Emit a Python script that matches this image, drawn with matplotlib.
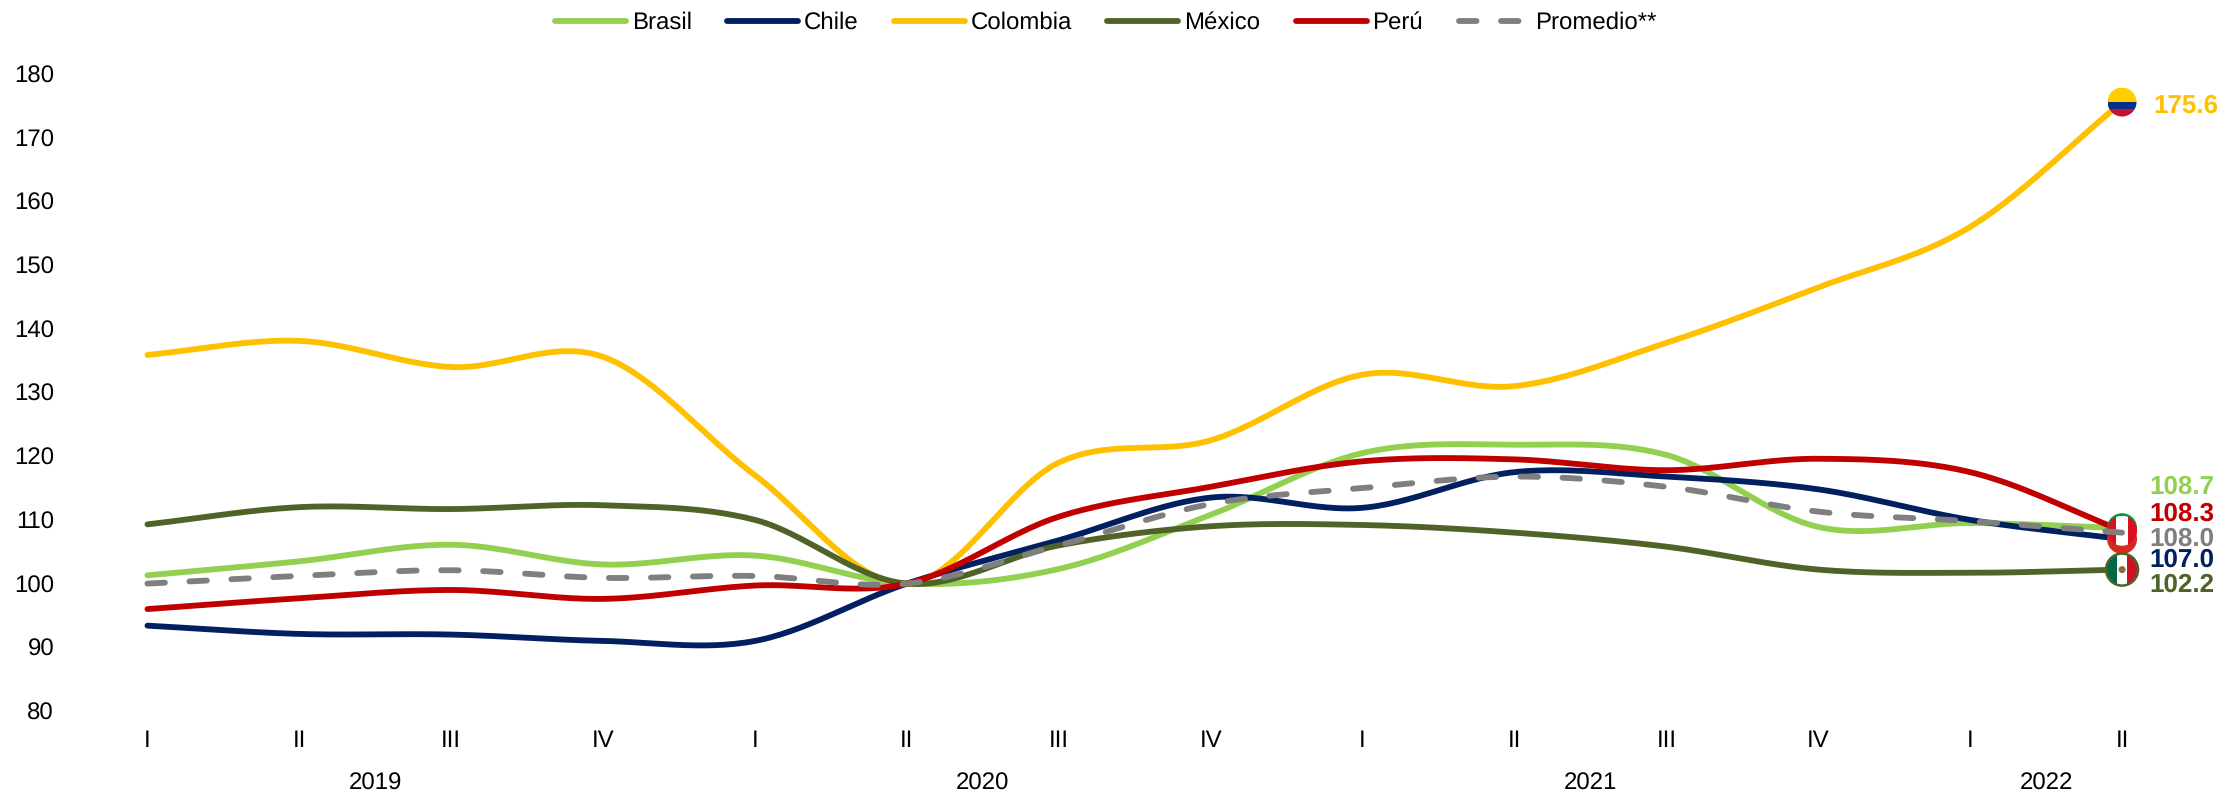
# Real exchange index by country, quarterly, with flags at the last quarter
import numpy as np
import matplotlib
matplotlib.use('Agg')
import matplotlib.pyplot as plt
from matplotlib.lines import Line2D
from matplotlib.patches import Circle, Rectangle
from matplotlib.transforms import ScaledTranslation

plt.rcParams['font.family'] = ['Liberation Sans', 'DejaVu Sans']
plt.rcParams['text.hinting'] = 'no_hinting'
plt.rcParams['text.hinting_factor'] = 1

# data
quarters = ['I', 'II', 'III', 'IV', 'I', 'II', 'III', 'IV', 'I', 'II', 'III', 'IV', 'I', 'II']
years = ['2019', '2020', '2021', '2022']
year_quarters = [4, 4, 4, 2]
brasil = [101.3, 103.5, 106.1, 103.0, 104.4, 100.0, 102.3, 110.8, 120.5, 121.8, 120.2, 108.9, 109.5, 108.7]
chile = [93.4, 92.1, 92.0, 91.0, 91.0, 100.0, 106.8, 113.5, 111.9, 117.5, 116.8, 114.8, 110.0, 107.0]
colombia = [135.9, 138.1, 134.0, 135.6, 117.0, 100.0, 119.0, 122.5, 132.8, 131.0, 137.8, 146.5, 156.0, 175.6]
mexico = [109.3, 112.0, 111.7, 112.3, 110.0, 100.0, 106.0, 109.0, 109.2, 108.0, 105.8, 102.2, 101.7, 102.2]
peru = [96.0, 97.7, 99.0, 97.6, 99.7, 100.0, 110.5, 115.2, 119.2, 119.5, 117.8, 119.6, 117.5, 108.3]
promedio = [100.0, 101.2, 102.1, 100.9, 101.2, 100.0, 106.0, 112.5, 115.0, 116.8, 115.2, 111.3, 109.8, 108.0]

GREEN = '#92D050'
NAVY = '#002060'
YELLOW = '#FFC000'
OLIVE = '#4F6228'
RED = '#C00000'
GREY = '#7F7F7F'
W, H = 2223, 796
LW = 4.2


def smooth(values, n=30):
    # Catmull-Rom curve through the points, ends run straight on
    p = np.array(values, dtype=float)
    p = np.concatenate(([2 * p[0] - p[1]], p, [2 * p[-1] - p[-2]]))
    xs, ys = [], []
    for i in range(1, len(p) - 2):
        t = np.linspace(0, 1, n, endpoint=False)
        y = 0.5 * (2 * p[i] + (p[i + 1] - p[i - 1]) * t
                   + (2 * p[i - 1] - 5 * p[i] + 4 * p[i + 1] - p[i + 2]) * t ** 2
                   + (3 * p[i] - p[i - 1] - 3 * p[i + 1] + p[i + 2]) * t ** 3)
        xs.append(i - 1 + t)
        ys.append(y)
    return np.concatenate(xs + [[len(values) - 1]]), np.concatenate(ys + [[values[-1]]])


fig = plt.figure(figsize=(W / 100, H / 100), dpi=100)
ax = fig.add_axes([71.5 / W, 85 / H, (2198 - 71.5) / W, 637 / H])

# lines
series = [('Brasil', brasil, GREEN), ('Chile', chile, NAVY), ('Colombia', colombia, YELLOW),
          ('México', mexico, OLIVE), ('Perú', peru, RED)]
handles = []
for name, vals, col in series:
    x, y = smooth(vals)
    ax.plot(x, y, color=col, lw=LW, solid_capstyle='round', zorder=2)
    handles.append(Line2D([], [], color=col, lw=LW, solid_capstyle='round', label=name))
x, y = smooth(promedio)
ax.plot(x, y, color=GREY, lw=LW, dashes=(3.0, 4.2), dash_capstyle='round', zorder=4)
handles.append(Line2D([], [], color=GREY, lw=LW, dashes=(3.0, 4.2), dash_capstyle='round', label='Promedio**'))

ax.set_xlim(-0.5, 13.5)
ax.set_ylim(80, 180)
ax.set_yticks(range(80, 181, 10))
ax.set_xticks(range(len(quarters)))
ax.set_xticklabels(quarters)
ax.tick_params(length=0, labelsize=17, colors='black')
ax.tick_params(axis='y', pad=12.5)
ax.tick_params(axis='x', pad=13.5)
for s in ax.spines.values():
    s.set_visible(False)

# year labels under the quarters
start = 0
for yr, n in zip(years, year_quarters):
    ax.annotate(yr, (start + (n - 1) / 2, 80), xytext=(0, -52), textcoords='offset points',
                ha='center', va='center', fontsize=17)
    start += n

ax.legend(handles=handles, ncols=6, loc='center', bbox_to_anchor=(780 * 2223 / 1568 / W, 1 - 23 / H),
          bbox_transform=fig.transFigure, frameon=False, fontsize=17, handlelength=3.0, handletextpad=0.25,
          columnspacing=1.5, borderpad=0, borderaxespad=0)


def flag(value, r_px, bands, vertical=False, ring=None, z=3):
    # round flag centred on the last point, sizes in pixels
    r = r_px / 100
    tr = fig.dpi_scale_trans + ScaledTranslation(13, value, ax.transData)
    clip = Circle((0, 0), r, transform=tr)
    pos = -r
    for col, frac in bands:
        size = 2 * r * frac
        if vertical:
            rect = Rectangle((pos, -r), size, 2 * r, transform=tr, fc=col, ec='none', zorder=z)
        else:
            rect = Rectangle((-r, r - (pos + r) - size), 2 * r, size, transform=tr, fc=col, ec='none', zorder=z)
        ax.add_artist(rect)
        rect.set_clip_path(clip)
        pos += size
    if ring:
        ax.add_artist(Circle((0, 0), r, transform=tr, fc='none', ec=ring, lw=1.8, zorder=z + 0.1))
    return tr


# flags at the end of the lines
flag(108.7, 15, [('#009B3A', 1)], z=2.6)
flag(107.0, 15, [('#D52B1E', 1)], z=2.7)
flag(108.3, 15, [('#D91023', 0.3), ('#FFFFFF', 0.4), ('#D91023', 0.3)], vertical=True, z=2.8)
flag(175.6, 14.5, [('#FFCD00', 0.5), ('#003087', 0.25), ('#C8102E', 0.25)], z=3)
tr = flag(102.2, 16, [('#006847', 0.33), ('#FFFFFF', 0.34), ('#CE1126', 0.33)], vertical=True, ring=OLIVE, z=3)
ax.add_artist(Circle((0, 0), 0.035, transform=tr, fc='#8C6A3F', ec='none', zorder=3.2))

# end value labels
end_labels = [(brasil[-1], GREEN, 44), (peru[-1], RED, 19), (promedio[-1], GREY, -3.4),
              (chile[-1], NAVY, -18), (mexico[-1], OLIVE, -12.4)]
for val, col, dy in end_labels:
    ax.annotate(f'{val:.1f}', (13, val), xytext=(92 * 0.72, dy * 0.72), textcoords='offset points',
                ha='right', va='center_baseline', color=col, fontsize=18.5, fontweight='bold',
                annotation_clip=False, zorder=5)
ax.annotate(f'{colombia[-1]:.1f}', (13, colombia[-1]), xytext=(96 * 0.72, -1 * 0.72), textcoords='offset points',
            ha='right', va='center_baseline', color=YELLOW, fontsize=18.5, fontweight='bold',
            annotation_clip=False, zorder=5)

fig.savefig('out.png', dpi=100)
